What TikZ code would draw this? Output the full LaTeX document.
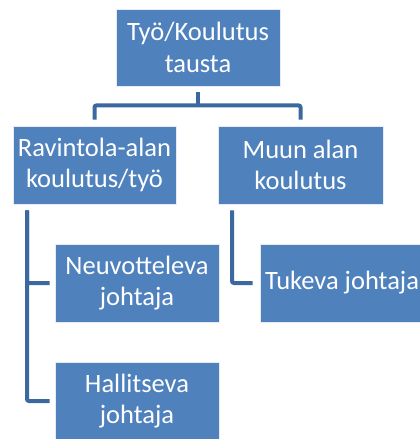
\documentclass[tikz,border=0pt]{standalone}
\usepackage{fontspec}
\setmainfont{Carlito}
\definecolor{BoxBlue}{RGB}{79,129,189}
\definecolor{LineBlue}{RGB}{60,104,160}
\usetikzlibrary{positioning, calc}

\begin{document}
\begin{tikzpicture}[x=1pt, y=-1pt,
	box/.style={rectangle, draw=white!85!BoxBlue, line width=0.8pt, fill=BoxBlue, text=white,
		minimum width=164pt, minimum height=78pt, align=center, inner sep=1pt,
		font=\fontsize{26.5}{31.5}\selectfont},
	ln/.style={line width=4pt, LineBlue, rounded corners=2pt}]
	\useasboundingbox (0,0) rectangle (420,439);
	\node[box, minimum height=77pt] (top) at (198,47.5) {Työ/Koulutus\\tausta};
	\node[box, minimum width=163pt] (rav) at (94.5,165) {Ravintola-alan\\koulutus/työ};
	\node[box, minimum width=165pt] (muu) at (300.5,165) {Muun alan\\koulutus};
	\node[box] (neu) at (137,283) {Neuvotteleva\\johtaja};
	\node[box] (hal) at (137,401) {Hallitseva\\johtaja};
	\node[box] (tuk) at (342,283) {Tukeva johtaja};
	% connectors
	\coordinate (hub) at ([yshift=-19pt]top.south);
	\draw[ln] ([yshift=-6pt]top.south) -- (hub);
	\draw[ln] ([yshift=6pt]rav.north) |- (hub) -| ([yshift=6pt]muu.north);
	\draw[ln] ([xshift=-67.5pt,yshift=-6pt]rav.south) |- ([xshift=-5pt]neu.west);
	\draw[ln] ([xshift=-67.5pt,yshift=-6pt]rav.south) |- ([xshift=-5pt]hal.west);
	\draw[ln] ([xshift=-68.5pt,yshift=-6pt]muu.south) |- ([xshift=-7pt]tuk.west);
\end{tikzpicture}
\end{document}
